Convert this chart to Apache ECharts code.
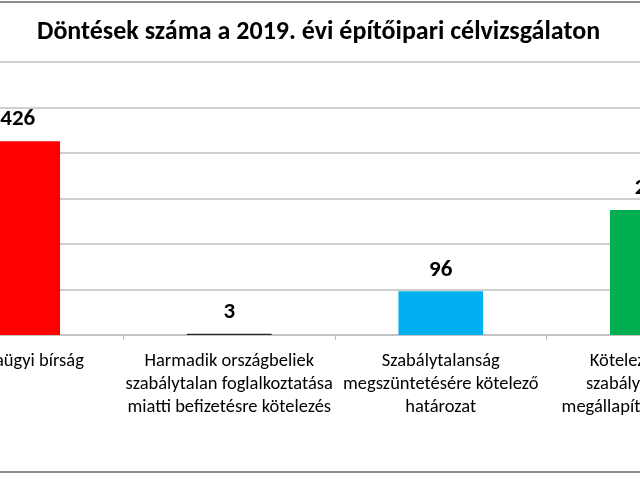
<!DOCTYPE html>
<html><head><meta charset="utf-8">
<script src="https://cdn.jsdelivr.net/npm/echarts@6/dist/echarts.min.js"></script>
<style>
html,body{margin:0;padding:0;background:#fff;overflow:hidden;}
#frame{position:absolute;left:0;top:0;width:640px;height:480px;overflow:hidden;}
#topline{position:absolute;left:0;top:1px;width:640px;height:2px;background:#8c8c8c;}
#botline{position:absolute;left:0;top:471px;width:640px;height:2px;background:#8c8c8c;}
#chart{position:absolute;left:-88.5px;top:0;width:846px;height:480px;}
</style></head>
<body>
<div id="frame"><div id="chart"></div><div id="topline"></div><div id="botline"></div></div>
<script>
const titleText = 'Döntések száma a 2019. évi építőipari célvizsgálaton';
const categories = [
  'Munkaügyi bírság',
  'Harmadik országbeliek\nszabálytalan foglalkoztatása\nmiatti befizetésre kötelezés',
  'Szabálytalanság\nmegszüntetésére kötelező\nhatározat',
  'Kötelezés nélküli\nszabálytalanságot\nmegállapító határozatok'
];
const values = [426, 3, 96, 275];
const barColors = ['#FF0000', '#262626', '#00B0F0', '#00B050'];
const yMin = 0, yMax = 600, yStep = 100;

const font = 'Carlito, Calibri, "Liberation Sans Narrow", "Open Sans", sans-serif';
const chart = echarts.init(document.getElementById('chart'), null, {renderer: 'canvas'});
chart.setOption({
  animation: false,
  title: {
    text: titleText, left: 120, top: 14,
    textStyle: {fontFamily: font, fontSize: 26, fontWeight: 'bold', color: '#000'}
  },
  grid: {left: 0, right: 0, top: 62, bottom: 145, containLabel: false, outerBoundsMode: 'none'},
  xAxis: {
    type: 'category', data: categories,
    axisLine: {lineStyle: {color: '#bfbfbf', width: 1.5}},
    axisTick: {show: true, length: 5, lineStyle: {color: '#bfbfbf'}},
    axisLabel: {interval: 0, margin: 15, lineHeight: 23, fontFamily: font, fontSize: 18.5, color: '#000'}
  },
  yAxis: {
    type: 'value', min: yMin, max: yMax, interval: yStep,
    axisLabel: {show: false}, axisLine: {show: false}, axisTick: {show: false},
    splitLine: {lineStyle: {color: '#bfbfbf', width: 1.5}}
  },
  series: [{
    type: 'bar', barCategoryGap: '60%',
    data: values.map((v, i) => ({value: v, itemStyle: {color: barColors[i]}})),
    label: {show: true, position: 'top', distance: 10, fontFamily: font, fontSize: 23, fontWeight: 'bold', color: '#000'}
  }]
});
</script>
</body></html>
